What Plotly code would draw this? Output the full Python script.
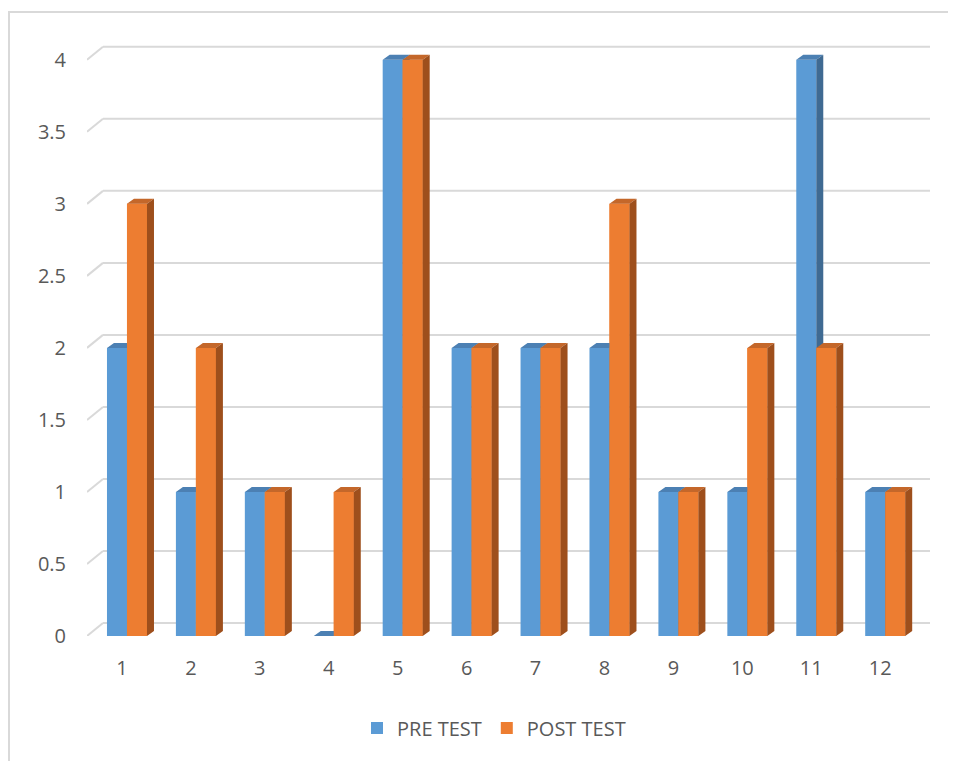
import plotly.graph_objects as go

categories = [1, 2, 3, 4, 5, 6, 7, 8, 9, 10, 11, 12]
pre_test = [2, 1, 1, 0, 4, 2, 2, 2, 1, 1, 4, 1]
post_test = [3, 2, 1, 1, 4, 2, 2, 3, 1, 2, 2, 1]
y_ticks = [0, 0.5, 1, 1.5, 2, 2.5, 3, 3.5, 4]
y_tick_text = ["0", "0.5", "1", "1.5", "2", "2.5", "3", "3.5", "4"]

BLUE, BLUE_TOP, BLUE_SIDE = "#5B9BD5", "#4C80B3", "#3F6A92"
ORANGE, ORANGE_TOP, ORANGE_SIDE = "#ED7D31", "#C4672A", "#9E4F1C"
GRID = "#D9D9D9"
TEXT = "#595959"
FONT = "Open Sans"

# the page body has an 8px margin; work in figure coordinates
OFF = 8
W, H = 956 - OFF, 761 - OFF
L, T = 87 - OFF, 31 - OFF
R = W - (930 - OFF)
B = H - (636 - OFF)
plot_w = W - L - R
plot_h = H - T - B
x_range = [0.42, 12.65]
y_range = [0, 4.2]
px_x = plot_w / (x_range[1] - x_range[0])
px_y = plot_h / (y_range[1] - y_range[0])

bw = 20 / px_x          # bar width in category units
dx = 7 / px_x           # depth offset of bars
dy = 5 / px_y
gdx = 16 / px_x         # depth offset of back wall (gridlines)
gdy = 13 / px_y


def faces(xs_left, vals):
    top_x, top_y, side_x, side_y, front_x, front_y = [], [], [], [], [], []
    for xl, v in zip(xs_left, vals):
        xr = xl + bw
        top_x += [xl, xr, xr + dx, xl + dx, xl, None]
        top_y += [v, v, v + dy, v + dy, v, None]
        side_x += [xr, xr + dx, xr + dx, xr, xr, None]
        side_y += [0, dy, v + dy, v, 0, None]
        front_x += [xl, xr, xr, xl, xl, None]
        front_y += [0, 0, v, v, 0, None]
    return top_x, top_y, side_x, side_y, front_x, front_y


fig = go.Figure()
fig.add_trace(go.Bar(x=categories, y=pre_test, name="PRE TEST", marker_color=BLUE,
                     width=bw, offset=-bw, marker_line_width=0, hoverinfo="skip"))
fig.add_trace(go.Bar(x=categories, y=post_test, name="POST TEST", marker_color=ORANGE,
                     width=bw, offset=0, marker_line_width=0, hoverinfo="skip"))

pre_left = [c - bw for c in categories]
post_left = [c for c in categories]
bt_x, bt_y, bs_x, bs_y, _, _ = faces(pre_left, pre_test)
ot_x, ot_y, os_x, os_y, of_x, of_y = faces(post_left, post_test)

for xs, ys, col in [(bt_x, bt_y, BLUE_TOP), (bs_x, bs_y, BLUE_SIDE),
                    (of_x, of_y, ORANGE), (ot_x, ot_y, ORANGE_TOP),
                    (os_x, os_y, ORANGE_SIDE)]:
    fig.add_trace(go.Scatter(x=xs, y=ys, mode="lines", fill="toself", fillcolor=col,
                             line=dict(width=0, color=col), showlegend=False,
                             hoverinfo="skip"))

shapes = []
for v in y_ticks:
    x0 = x_range[0]
    shapes.append(dict(type="line", xref="x", yref="y", x0=x0, y0=v,
                       x1=x0 + gdx, y1=v + gdy, line=dict(color=GRID, width=2),
                       layer="below"))
    shapes.append(dict(type="line", xref="x", yref="y", x0=x0 + gdx, y0=v + gdy,
                       x1=x_range[1], y1=v + gdy, line=dict(color=GRID, width=2),
                       layer="below"))
# chart border (left edge at x=9, top edge at y=12 in the page)
shapes.append(dict(type="rect", xref="paper", yref="paper",
                   x0=(9 - OFF - L) / plot_w, x1=1.2, y0=-0.5,
                   y1=(T + plot_h - (12 - OFF)) / plot_h,
                   line=dict(color=GRID, width=2), fillcolor="rgba(0,0,0,0)",
                   layer="below"))

fig.update_layout(
    width=W, height=H,
    margin=dict(l=L, r=R, t=T, b=B, pad=0),
    paper_bgcolor="white", plot_bgcolor="white",
    barmode="overlay",
    shapes=shapes,
    font=dict(family=FONT, size=20, color=TEXT),
    xaxis=dict(range=x_range, tickmode="array", tickvals=categories,
               ticktext=[str(c) for c in categories], showgrid=False,
               zeroline=False, showline=False, ticks="",
               ticklabelstandoff=18, ticklabelshift=-5,
               tickfont=dict(family=FONT, size=20, color=TEXT)),
    yaxis=dict(range=y_range, tickmode="array", tickvals=y_ticks, ticktext=y_tick_text,
               showgrid=False, zeroline=False, showline=False, ticks="",
               ticklabelstandoff=20,
               tickfont=dict(family=FONT, size=20, color=TEXT)),
    legend=dict(orientation="h", x=(494 - OFF - L) / plot_w, xanchor="center",
                y=(T + plot_h - (728 - OFF)) / plot_h, yanchor="middle",
                font=dict(family=FONT, size=20, color=TEXT),
                bgcolor="rgba(0,0,0,0)"),
)

fig.write_html("out.html")
